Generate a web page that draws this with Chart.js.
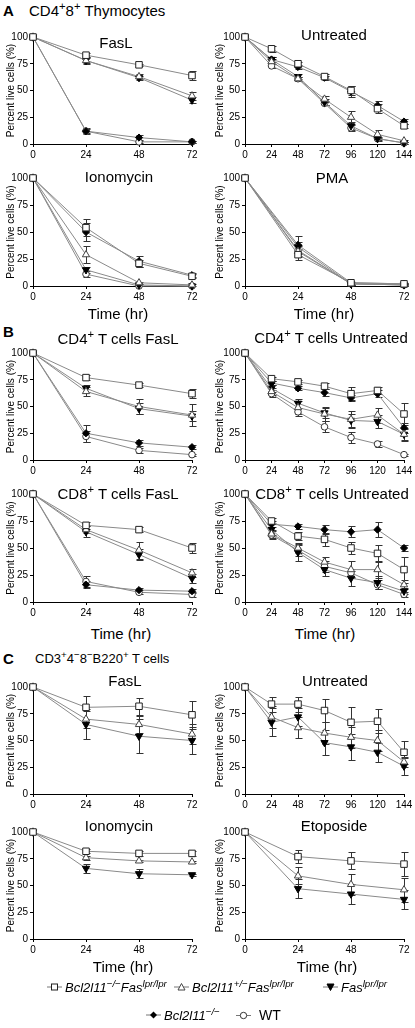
<!DOCTYPE html>
<html><head><meta charset="utf-8">
<script src="https://cdn.jsdelivr.net/npm/chart.js@4.4.1/dist/chart.umd.min.js"></script>
<style>
body{margin:0;width:415px;height:1028px;background:#fff;position:relative;overflow:hidden;font-family:"Liberation Sans",Arial,sans-serif;color:#000}
canvas{position:absolute}
.t{position:absolute;white-space:nowrap;transform:translate(-50%,-50%);font-size:15px;line-height:1}
.h{position:absolute;white-space:nowrap;transform:translateY(-50%);font-size:15px;line-height:1}
.b{font-weight:bold;font-size:15px}
sup{font-size:75%;line-height:0;vertical-align:0.45em}
.lg{position:absolute;white-space:nowrap;transform:translateY(-50%);font-size:13px;line-height:1;display:flex;align-items:center}
.lg i{margin-left:3px}
.lg svg{display:block}
</style></head><body>
<script>
// ---------- data ----------
const X_SHORT = [0, 24, 48, 72];
const X_LONG = [0, 24, 48, 72, 96, 120, 144];
const GENOTYPES = ['Bcl2l11-/-Fas lpr/lpr', 'Bcl2l11+/-Fas lpr/lpr', 'Fas lpr/lpr', 'Bcl2l11-/-', 'WT'];

// series order: [Bcl2l11-/-Fas lpr, Bcl2l11+/-Fas lpr, Fas lpr, Bcl2l11-/-, WT]
const A_FASL = [[100,83,74,64],[100,78,63,45],[100,78,62,41],[100,12,6,2],[100,12,2,2]];
const A_FASL_ERR = [[0,2,1,4],[0,2,2,4],[0,3,2,3],[0,2,2,1],[0,3,1,1]];
const A_UNTR = [[100,89,75,63,50,33,17],[100,77,61,42,25,9,3],[100,79,63,39,17,5,1],[100,79,72,62,49,36,21],[100,73,61,38,15,5,1]];
const A_UNTR_ERR = [[0,3,2,2,4,4,2],[0,2,2,3,6,4,1],[0,2,2,3,4,2,1],[0,2,2,2,5,4,2],[0,2,2,2,3,1,1]];
const A_IONO = [[100,54,21,9],[100,29,3,1],[100,15,1,0],[100,50,23,10],[100,11,0,0]];
const A_IONO_ERR = [[0,8,3,2],[0,8,1,1],[0,3,1,0],[0,8,5,2],[0,3,0,0]];
const A_PMA = [[100,29,3,2],[100,32,2,1],[100,36,2,1],[100,38,3,2],[100,33,2,1]];
const A_PMA_ERR = [[0,5,1,1],[0,5,1,1],[0,5,1,1],[0,8,1,1],[0,5,1,1]];

const B_CD4_FASL = [[100,77,70,62],[100,64,50,42],[100,67,48,41],[100,25,16,12],[100,22,9,5]];
const B_CD4_FASL_ERR = [[0,2,2,4],[0,4,7,10],[0,3,5,5],[0,8,3,2],[0,5,2,1]];
const B_CD4_UNTR = [[100,76,73,69,62,65,43],[100,64,49,43,38,42,24],[100,67,53,44,37,36,24],[100,72,67,63,58,62,30],[100,62,45,31,21,15,5]];
const B_CD4_UNTR_ERR = [[0,2,2,3,6,3,10],[0,3,6,7,8,7,5],[0,3,4,5,6,6,6],[0,2,2,3,3,3,5],[0,3,4,5,5,3,1]];
const B_CD8_FASL = [[100,71,67,50],[100,67,48,27],[100,65,44,22],[100,16,11,10],[100,19,9,7]];
const B_CD8_FASL_ERR = [[0,3,2,5],[0,3,8,4],[0,5,5,4],[0,3,2,2],[0,5,2,2]];
const B_CD8_UNTR = [[100,75,61,58,50,45,30],[100,63,50,37,30,30,16],[100,67,46,30,22,18,10],[100,72,70,67,65,67,50],[100,62,48,33,27,16,7]];
const B_CD8_UNTR_ERR = [[0,3,4,6,6,8,12],[0,4,5,5,8,8,4],[0,5,8,6,7,6,3],[0,3,2,4,5,7,3],[0,4,5,5,4,4,2]];

const C_FASL = [[100,81,82,74],[100,70,65,56],[100,65,54,50]];
const C_FASL_ERR = [[0,11,8,13],[0,8,8,9],[0,14,16,13]];
const C_UNTR = [[100,84,84,78,67,68,39],[100,72,62,57,53,50,30],[100,67,72,48,44,39,26]];
const C_UNTR_ERR = [[0,7,7,11,14,11,11],[0,10,10,10,10,10,5],[0,13,8,12,12,9,8]];
const C_IONO = [[100,82,80,80],[100,76,73,72],[100,66,61,60]];
const C_IONO_ERR = [[0,2,2,2],[0,2,1,1],[0,4,4,1]];
const C_ETOP = [[100,77,73,70],[100,59,51,46],[100,47,42,37]];
const C_ETOP_ERR = [[0,6,8,11],[0,8,10,11],[0,9,9,9]];

const Y_TICKS = [0, 25, 50, 75, 100];

// ---------- styles ----------
const MARK = [
  {pointStyle:'rect', pointRadius:4.6, pointBackgroundColor:'#fff', pointBorderColor:'#222', pointRotation:0},
  {pointStyle:'triangle', pointRadius:4.2, pointBackgroundColor:'#fff', pointBorderColor:'#444', pointRotation:0},
  {pointStyle:'triangle', pointRadius:4.2, pointBackgroundColor:'#000', pointBorderColor:'#000', pointRotation:180},
  {pointStyle:'rectRot', pointRadius:3.6, pointBackgroundColor:'#000', pointBorderColor:'#000', pointRotation:0},
  {pointStyle:'circle', pointRadius:3.3, pointBackgroundColor:'#fff', pointBorderColor:'#333', pointRotation:0}
];

const COLS = {L:{left:0, width:205, axisW:33, padR:13, titlePad:5}, R:{left:205, width:210, axisW:40, padR:11, titlePad:9}};

const PANELS = [
  {col:'L', top:37, bottom:144, x:X_SHORT, v:A_FASL, e:A_FASL_ERR},
  {col:'R', top:37, bottom:144, x:X_LONG, v:A_UNTR, e:A_UNTR_ERR},
  {col:'L', top:178, bottom:286, x:X_SHORT, v:A_IONO, e:A_IONO_ERR},
  {col:'R', top:178, bottom:286, x:X_SHORT, v:A_PMA, e:A_PMA_ERR},
  {col:'L', top:353, bottom:460, x:X_SHORT, v:B_CD4_FASL, e:B_CD4_FASL_ERR},
  {col:'R', top:353, bottom:460, x:X_LONG, v:B_CD4_UNTR, e:B_CD4_UNTR_ERR},
  {col:'L', top:494, bottom:602, x:X_SHORT, v:B_CD8_FASL, e:B_CD8_FASL_ERR},
  {col:'R', top:494, bottom:602, x:X_LONG, v:B_CD8_UNTR, e:B_CD8_UNTR_ERR},
  {col:'L', top:687, bottom:794, x:X_SHORT, v:C_FASL, e:C_FASL_ERR},
  {col:'R', top:687, bottom:794, x:X_LONG, v:C_UNTR, e:C_UNTR_ERR},
  {col:'L', top:832, bottom:939, x:X_SHORT, v:C_IONO, e:C_IONO_ERR},
  {col:'R', top:832, bottom:939, x:X_SHORT, v:C_ETOP, e:C_ETOP_ERR}
];

const errorBars = {
  id:'errorBars',
  beforeDatasetsDraw(chart){
    const {ctx, scales:{x, y}} = chart;
    ctx.save();
    ctx.strokeStyle = '#333'; ctx.lineWidth = 1;
    chart.data.datasets.forEach(ds => {
      if (!ds.errors) return;
      ds.data.forEach((pt, i) => {
        const e = ds.errors[i]; if (!e) return;
        const px = Math.round(x.getPixelForValue(pt.x)) + 0.5;
        const y1 = Math.round(y.getPixelForValue(pt.y + e)) + 0.5;
        const y2 = Math.round(y.getPixelForValue(Math.max(pt.y - e, 0))) + 0.5;
        ctx.beginPath();
        ctx.moveTo(px, y1); ctx.lineTo(px, y2);
        ctx.moveTo(px - 3, y1); ctx.lineTo(px + 4, y1);
        ctx.moveTo(px - 3, y2); ctx.lineTo(px + 4, y2);
        ctx.stroke();
      });
    });
    ctx.restore();
  }
};

const FONT = {family:'"Liberation Sans", Arial, sans-serif', size:10};

PANELS.forEach(p => {
  const c = COLS[p.col];
  const cv = document.createElement('canvas');
  const h = (p.bottom - p.top) + 8 + 20;
  cv.width = c.width; cv.height = h;
  cv.style.left = c.left + 'px'; cv.style.top = (p.top - 8) + 'px';
  cv.style.width = c.width + 'px'; cv.style.height = h + 'px';
  document.body.appendChild(cv);
  const xmax = p.x[p.x.length - 1];
  new Chart(cv, {
    type:'line',
    data:{datasets: p.v.map((vals, i) => Object.assign({
      label: GENOTYPES[i],
      data: p.x.map((xv, j) => ({x:xv, y:vals[j]})),
      errors: p.e[i],
      borderColor:'#8a8a8a', borderWidth:1, pointBorderWidth:1, clip:false, tension:0
    }, MARK[i]))},
    options:{
      responsive:false, animation:false, devicePixelRatio:1,
      layout:{padding:{top:8, right:c.padR, bottom:0, left:0}},
      plugins:{legend:{display:false}, tooltip:{enabled:false}},
      scales:{
        x:{type:'linear', min:0, max:xmax,
           afterBuildTicks: s => { s.ticks = p.x.map(v => ({value:v})); },
           ticks:{font:FONT, color:'#000', padding:2, maxRotation:0, autoSkip:false},
           grid:{drawOnChartArea:false, tickLength:3, color:'#000'},
           border:{color:'#000', width:1},
           afterFit: s => { s.height = 20; }},
        y:{min:0, max:100,
           afterBuildTicks: s => { s.ticks = Y_TICKS.map(v => ({value:v})); },
           ticks:{font:FONT, color:'#000', padding:2},
           grid:{drawOnChartArea:false, tickLength:3, color:'#000'},
           border:{color:'#000', width:1},
           title:{display:true, text:'Percent live cells (%)', font:FONT, color:'#000', padding:{top:c.titlePad, bottom:0}},
           afterFit: s => { s.width = c.axisW; }}
      }
    },
    plugins:[errorBars]
  });
});

// ---------- text ----------
function addEl(cls, html, x, y){
  const d = document.createElement('div');
  d.className = cls; d.innerHTML = html;
  d.style.left = x + 'px'; d.style.top = y + 'px';
  document.body.appendChild(d);
  return d;
}
addEl('h b', 'A', 3, 10);
addEl('h', 'CD4<sup>+</sup>8<sup>+</sup> Thymocytes', 29, 10);
addEl('h b', 'B', 3, 331);
addEl('h b', 'C', 3, 658);
addEl('h', 'CD3<sup>+</sup>4<sup>−</sup>8<sup>−</sup>B220<sup>+</sup> T cells', 35, 658).style.fontSize = '13px';

const TITLES = [
  ['FasL',116,42],['Untreated',334,34],['Ionomycin',119,176],['PMA',332,177],
  ['CD4<sup>+</sup> T cells FasL',118,338],['CD4<sup>+</sup> T cells Untreated',331,337],
  ['CD8<sup>+</sup> T cells FasL',118,493],['CD8<sup>+</sup> T cells Untreated',332,493],
  ['FasL',125,680],['Untreated',335,680],['Ionomycin',119,825],['Etoposide',334,825]
];
TITLES.forEach(t => addEl('t', t[0], t[1], t[2]));
[[118,313],[324,313],[121,633],[325,633],[123,966],[327,966]].forEach(t => {
  addEl('t', 'Time (hr)', t[0], t[1]).style.fontSize = '15px';
});

// legend
const SYM = [
  '<rect x="4.5" y="2.5" width="6" height="6" fill="#fff" stroke="#222"/>',
  '<polygon points="7.5,2 11,8.5 4,8.5" fill="#fff" stroke="#444"/>',
  '<polygon points="7.5,9 11,2.5 4,2.5" fill="#000" stroke="#000"/>',
  '<polygon points="7.5,2 11,5.5 7.5,9 4,5.5" fill="#000"/>',
  '<circle cx="7.5" cy="5.5" r="3.2" fill="#fff" stroke="#333"/>'
];
const LEG_TEXT = [
  '<i>Bcl2l11<sup>−/−</sup>Fas<sup>lpr/lpr</sup></i>',
  '<i>Bcl2l11<sup>+/−</sup>Fas<sup>lpr/lpr</sup></i>',
  '<i>Fas<sup>lpr/lpr</sup></i>',
  '<i>Bcl2l11<sup>−/−</sup></i>',
  '<span style="margin-left:8px;font-size:14px">WT</span>'
];
const LEG_POS = [[47,987],[174,987],[323,987],[146,1015],[236,1015]];
LEG_POS.forEach((pp, i) => {
  addEl('lg', '<svg width="15" height="11"><line x1="0" y1="5.5" x2="15" y2="5.5" stroke="#777"/>' + SYM[i] + '</svg>' + LEG_TEXT[i], pp[0], pp[1]);
});
</script>
</body></html>
